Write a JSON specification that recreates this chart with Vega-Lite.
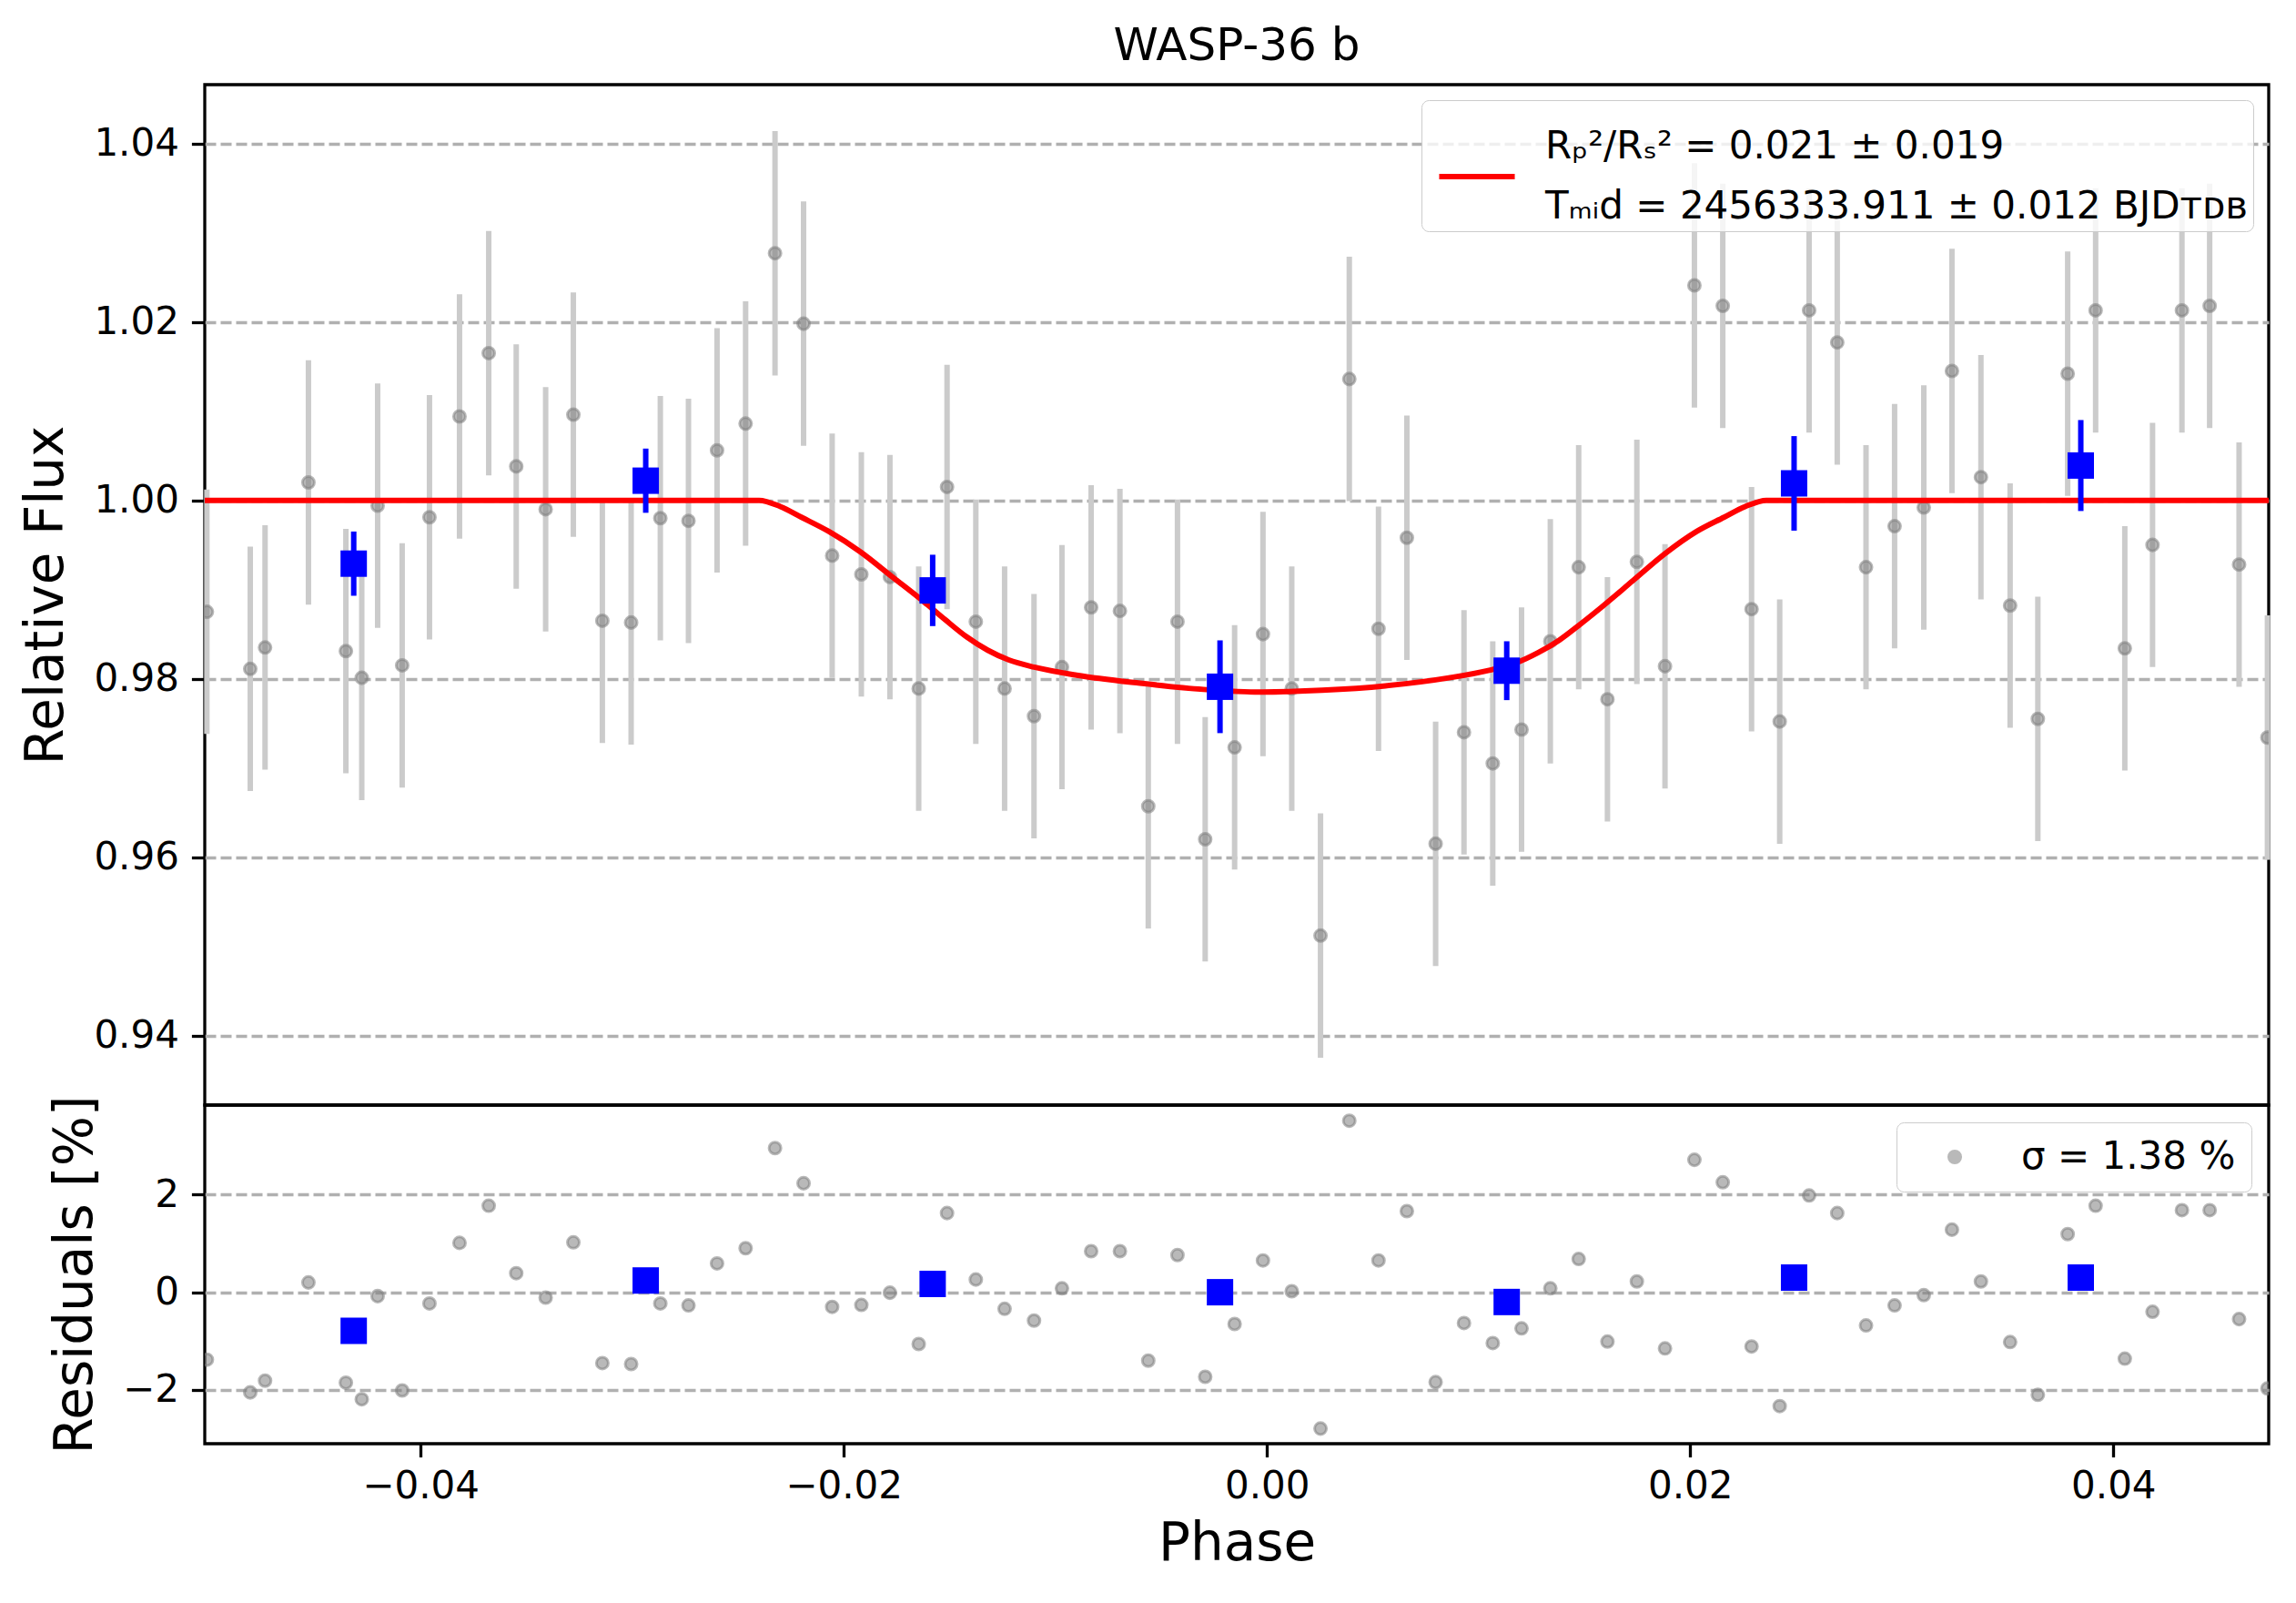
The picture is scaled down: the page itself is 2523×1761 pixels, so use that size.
{
  "$schema": "https://vega.github.io/schema/vega-lite/v6.json",
  "autosize": {"type": "pad"},
  "padding": {"left": 21, "top": 24, "right": 0, "bottom": 0},
  "background": "white",
  "datasets": {
    "points": [
      {"phase": -0.0501, "flux": 0.9875, "err": 0.0137, "resid": -1.38},
      {"phase": -0.04805, "flux": 0.9811, "err": 0.0137, "resid": -2.05},
      {"phase": -0.04735, "flux": 0.9835, "err": 0.0137, "resid": -1.81},
      {"phase": -0.0453, "flux": 1.0020, "err": 0.0137, "resid": 0.20},
      {"phase": -0.04353, "flux": 0.9831, "err": 0.0137, "resid": -1.85},
      {"phase": -0.04278, "flux": 0.9801, "err": 0.0137, "resid": -2.19},
      {"phase": -0.04203, "flux": 0.9994, "err": 0.0137, "resid": -0.08},
      {"phase": -0.04087, "flux": 0.9815, "err": 0.0137, "resid": -2.01},
      {"phase": -0.03958, "flux": 0.9981, "err": 0.0137, "resid": -0.23},
      {"phase": -0.03816, "flux": 1.0094, "err": 0.0137, "resid": 1.01},
      {"phase": -0.03678, "flux": 1.0165, "err": 0.0137, "resid": 1.77},
      {"phase": -0.03548, "flux": 1.0038, "err": 0.0137, "resid": 0.39},
      {"phase": -0.03409, "flux": 0.9990, "err": 0.0137, "resid": -0.11},
      {"phase": -0.03278, "flux": 1.0096, "err": 0.0137, "resid": 1.02},
      {"phase": -0.03141, "flux": 0.9865, "err": 0.0137, "resid": -1.45},
      {"phase": -0.03005, "flux": 0.9863, "err": 0.0137, "resid": -1.47},
      {"phase": -0.02867, "flux": 0.9980, "err": 0.0137, "resid": -0.23},
      {"phase": -0.02734, "flux": 0.9977, "err": 0.0137, "resid": -0.27},
      {"phase": -0.02599, "flux": 1.0056, "err": 0.0137, "resid": 0.59},
      {"phase": -0.02464, "flux": 1.0086, "err": 0.0137, "resid": 0.90},
      {"phase": -0.02325, "flux": 1.0277, "err": 0.0137, "resid": 2.95},
      {"phase": -0.02190, "flux": 1.0198, "err": 0.0137, "resid": 2.23},
      {"phase": -0.02055, "flux": 0.9938, "err": 0.0137, "resid": -0.30},
      {"phase": -0.01917, "flux": 0.9917, "err": 0.0137, "resid": -0.26},
      {"phase": -0.01782, "flux": 0.9914, "err": 0.0137, "resid": -0.01},
      {"phase": -0.01646, "flux": 0.9789, "err": 0.0137, "resid": -1.06},
      {"phase": -0.01512, "flux": 1.0015, "err": 0.0137, "resid": 1.62},
      {"phase": -0.01376, "flux": 0.9864, "err": 0.0137, "resid": 0.26},
      {"phase": -0.01240, "flux": 0.9789, "err": 0.0137, "resid": -0.34},
      {"phase": -0.01101, "flux": 0.9758, "err": 0.0137, "resid": -0.58},
      {"phase": -0.00969, "flux": 0.9813, "err": 0.0137, "resid": 0.08},
      {"phase": -0.00831, "flux": 0.9880, "err": 0.0137, "resid": 0.84},
      {"phase": -0.00695, "flux": 0.9876, "err": 0.0137, "resid": 0.84},
      {"phase": -0.00561, "flux": 0.9657, "err": 0.0137, "resid": -1.40},
      {"phase": -0.00423, "flux": 0.9864, "err": 0.0137, "resid": 0.76},
      {"phase": -0.00292, "flux": 0.9620, "err": 0.0137, "resid": -1.73},
      {"phase": -0.00153, "flux": 0.9723, "err": 0.0137, "resid": -0.65},
      {"phase": -0.00019, "flux": 0.9850, "err": 0.0137, "resid": 0.65},
      {"phase": 0.00117, "flux": 0.9789, "err": 0.0137, "resid": 0.02},
      {"phase": 0.00253, "flux": 0.9512, "err": 0.0137, "resid": -2.79},
      {"phase": 0.00389, "flux": 1.0136, "err": 0.0137, "resid": 3.51},
      {"phase": 0.00527, "flux": 0.9856, "err": 0.0137, "resid": 0.65},
      {"phase": 0.00661, "flux": 0.9958, "err": 0.0137, "resid": 1.66},
      {"phase": 0.00797, "flux": 0.9615, "err": 0.0137, "resid": -1.84},
      {"phase": 0.00931, "flux": 0.9740, "err": 0.0137, "resid": -0.63},
      {"phase": 0.01067, "flux": 0.9705, "err": 0.0137, "resid": -1.04},
      {"phase": 0.01203, "flux": 0.9743, "err": 0.0137, "resid": -0.74},
      {"phase": 0.01339, "flux": 0.9842, "err": 0.0137, "resid": 0.08},
      {"phase": 0.01473, "flux": 0.9925, "err": 0.0137, "resid": 0.68},
      {"phase": 0.01609, "flux": 0.9777, "err": 0.0137, "resid": -1.01},
      {"phase": 0.01748, "flux": 0.9931, "err": 0.0137, "resid": 0.22},
      {"phase": 0.01881, "flux": 0.9814, "err": 0.0137, "resid": -1.15},
      {"phase": 0.02020, "flux": 1.0241, "err": 0.0137, "resid": 2.71},
      {"phase": 0.02154, "flux": 1.0218, "err": 0.0137, "resid": 2.25},
      {"phase": 0.02290, "flux": 0.9878, "err": 0.0137, "resid": -1.11},
      {"phase": 0.02423, "flux": 0.9752, "err": 0.0137, "resid": -2.33},
      {"phase": 0.02562, "flux": 1.0213, "err": 0.0137, "resid": 1.98},
      {"phase": 0.02695, "flux": 1.0177, "err": 0.0137, "resid": 1.62},
      {"phase": 0.02831, "flux": 0.9925, "err": 0.0137, "resid": -0.68},
      {"phase": 0.02966, "flux": 0.9971, "err": 0.0137, "resid": -0.27},
      {"phase": 0.03104, "flux": 0.9992, "err": 0.0137, "resid": -0.06},
      {"phase": 0.03237, "flux": 1.0145, "err": 0.0137, "resid": 1.28},
      {"phase": 0.03374, "flux": 1.0026, "err": 0.0137, "resid": 0.22},
      {"phase": 0.03512, "flux": 0.9882, "err": 0.0137, "resid": -1.02},
      {"phase": 0.03643, "flux": 0.9755, "err": 0.0137, "resid": -2.10},
      {"phase": 0.03784, "flux": 1.0142, "err": 0.0137, "resid": 1.19},
      {"phase": 0.03916, "flux": 1.0213, "err": 0.0137, "resid": 1.77},
      {"phase": 0.04054, "flux": 0.9834, "err": 0.0137, "resid": -1.36},
      {"phase": 0.04185, "flux": 0.9950, "err": 0.0137, "resid": -0.40},
      {"phase": 0.04324, "flux": 1.0213, "err": 0.0137, "resid": 1.68},
      {"phase": 0.04455, "flux": 1.0218, "err": 0.0137, "resid": 1.68},
      {"phase": 0.04594, "flux": 0.9928, "err": 0.0137, "resid": -0.55},
      {"phase": 0.04728, "flux": 0.9734, "err": 0.0137, "resid": -1.97}
    ],
    "binned": [
      {"phase": -0.04316, "flux": 0.9929, "err": 0.0036, "resid": -0.79},
      {"phase": -0.02936, "flux": 1.0022, "err": 0.0036, "resid": 0.24},
      {"phase": -0.01580, "flux": 0.9899, "err": 0.0040, "resid": 0.17},
      {"phase": -0.00222, "flux": 0.9791, "err": 0.0052, "resid": 0.00},
      {"phase": 0.01133, "flux": 0.9809, "err": 0.0033, "resid": -0.20},
      {"phase": 0.02491, "flux": 1.0019, "err": 0.0053, "resid": 0.30},
      {"phase": 0.03846, "flux": 1.0039, "err": 0.0051, "resid": 0.30}
    ],
    "model": [
      {"phase": -0.0502, "flux": 1.0},
      {"phase": -0.0240, "flux": 1.0},
      {"phase": -0.0230, "flux": 0.9993},
      {"phase": -0.0220, "flux": 0.9981},
      {"phase": -0.0207, "flux": 0.9965},
      {"phase": -0.0192, "flux": 0.9942},
      {"phase": -0.0177, "flux": 0.9914},
      {"phase": -0.0162, "flux": 0.9886},
      {"phase": -0.0152, "flux": 0.9866},
      {"phase": -0.0142, "flux": 0.9847},
      {"phase": -0.0132, "flux": 0.9832},
      {"phase": -0.0122, "flux": 0.9821},
      {"phase": -0.0110, "flux": 0.9813},
      {"phase": -0.0090, "flux": 0.9804},
      {"phase": -0.0060, "flux": 0.9795},
      {"phase": -0.0030, "flux": 0.9788},
      {"phase": -0.0002, "flux": 0.9785},
      {"phase": 0.0026, "flux": 0.9787},
      {"phase": 0.0056, "flux": 0.9792},
      {"phase": 0.0086, "flux": 0.9801},
      {"phase": 0.0106, "flux": 0.9810},
      {"phase": 0.0118, "flux": 0.9818},
      {"phase": 0.0128, "flux": 0.9829},
      {"phase": 0.0138, "flux": 0.9843},
      {"phase": 0.0148, "flux": 0.9861},
      {"phase": 0.0158, "flux": 0.9880},
      {"phase": 0.0173, "flux": 0.9910},
      {"phase": 0.0188, "flux": 0.9940},
      {"phase": 0.0203, "flux": 0.9965},
      {"phase": 0.0216, "flux": 0.9981},
      {"phase": 0.0226, "flux": 0.9993},
      {"phase": 0.0236, "flux": 1.0},
      {"phase": 0.04734, "flux": 1.0}
    ]
  },
  "spacing": 0,
  "bounds": "flush",
  "resolve": {
    "scale": {"color": "independent"},
    "legend": {"color": "independent"}
  },
  "vconcat": [
    {
      "width": 2268,
      "height": 1121,
      "title": {
        "text": "WASP-36 b",
        "fontSize": 50,
        "font": "DejaVu Sans",
        "fontWeight": "normal",
        "color": "black",
        "offset": 17,
        "anchor": "middle",
        "frame": "group"
      },
      "layer": [
        {
          "data": {"name": "points"},
          "mark": {"type": "errorbar", "color": "#cbcbcb", "thickness": 6, "ticks": false},
          "encoding": {
            "x": {
              "field": "phase",
              "type": "quantitative",
              "title": "Phase",
              "scale": {"domain": [-0.0502, 0.04734], "nice": false, "zero": false},
              "axis": null
            },
            "y": {
              "field": "flux",
              "type": "quantitative",
              "title": "Relative Flux",
              "scale": {"domain": [0.9322, 1.0466], "nice": false, "zero": false},
              "axis": {
                "values": [0.94, 0.96, 0.98, 1.0, 1.02, 1.04],
                "format": ".2f",
                "grid": true
              }
            },
            "yError": {"field": "err"}
          }
        },
        {
          "data": {"name": "points"},
          "mark": {
            "type": "point",
            "shape": "circle",
            "filled": true,
            "size": 170,
            "fill": "gray",
            "fillOpacity": 0.55,
            "stroke": "gray",
            "strokeOpacity": 0.55,
            "strokeWidth": 3,
            "clip": true
          },
          "encoding": {
            "x": {"field": "phase", "type": "quantitative", "title": "Phase"},
            "y": {"field": "flux", "type": "quantitative", "title": "Relative Flux"}
          }
        },
        {
          "data": {"name": "model"},
          "mark": {"type": "line", "strokeWidth": 6, "clip": true, "interpolate": "monotone"},
          "encoding": {
            "x": {"field": "phase", "type": "quantitative", "title": "Phase"},
            "y": {"field": "flux", "type": "quantitative", "title": "Relative Flux"},
            "color": {
              "datum": "fit",
              "scale": {"range": ["#ff0000"]},
              "legend": {
                "title": " ",
                "titleFontSize": 30,
                "titlePadding": 3,
                "orient": "top-right",
                "offset": 17,
                "labelExpr": "['Rₚ²/Rₛ² = 0.021 ± 0.019', 'Tₘᵢd = 2456333.911 ± 0.012 BJDᴛᴅʙ']",
                "labelFont": "DejaVu Sans",
                "labelFontSize": 42,
                "labelColor": "black",
                "labelLimit": 2000,
                "labelOffset": 30,
                "symbolOffset": 10,
                "symbolType": "stroke",
                "symbolSize": 6900,
                "symbolStrokeWidth": 6,
                "strokeColor": "#cccccc",
                "fillColor": "rgba(255,255,255,0.8)",
                "cornerRadius": 8,
                "padding": 6,
                "encode": {
                  "labels": {"update": {"lineHeight": {"value": 66}, "dy": {"value": -33}}}
                }
              }
            }
          }
        },
        {
          "data": {"name": "binned"},
          "mark": {"type": "errorbar", "color": "#0000ff", "thickness": 6, "ticks": false},
          "encoding": {
            "x": {"field": "phase", "type": "quantitative", "title": "Phase"},
            "y": {"field": "flux", "type": "quantitative", "title": "Relative Flux"},
            "yError": {"field": "err"}
          }
        },
        {
          "data": {"name": "binned"},
          "mark": {"type": "point", "shape": "square", "filled": true, "size": 841, "color": "#0000ff", "opacity": 1},
          "encoding": {
            "x": {"field": "phase", "type": "quantitative", "title": "Phase"},
            "y": {"field": "flux", "type": "quantitative", "title": "Relative Flux"}
          }
        }
      ]
    },
    {
      "width": 2268,
      "height": 372,
      "layer": [
        {
          "data": {"name": "points"},
          "mark": {
            "type": "point",
            "shape": "circle",
            "filled": true,
            "size": 170,
            "fillOpacity": 0.55,
            "stroke": "gray",
            "strokeOpacity": 0.55,
            "strokeWidth": 3,
            "clip": true
          },
          "encoding": {
            "x": {
              "field": "phase",
              "type": "quantitative",
              "title": "Phase",
              "scale": {"domain": [-0.0502, 0.04734], "nice": false, "zero": false},
              "axis": {
                "values": [-0.04, -0.02, 0.0, 0.02, 0.04],
                "format": ".2f",
                "grid": false
              }
            },
            "y": {
              "field": "resid",
              "type": "quantitative",
              "title": "Residuals [%]",
              "scale": {"domain": [-3.10, 3.83], "nice": false, "zero": false},
              "axis": {
                "values": [-2, 0, 2],
                "format": "d",
                "grid": true
              }
            },
            "color": {
              "datum": "sigma",
              "scale": {"range": ["gray"]},
              "legend": {
                "title": null,
                "orient": "top-right",
                "offset": 19,
                "labelExpr": "'σ = 1.38 %'",
                "labelFont": "DejaVu Sans",
                "labelFontSize": 42,
                "labelColor": "black",
                "labelLimit": 2000,
                "labelOffset": 52,
                "symbolOffset": 26,
                "symbolType": "circle",
                "symbolSize": 170,
                "symbolFillColor": "gray",
                "symbolOpacity": 0.55,
                "symbolStrokeColor": "gray",
                "symbolStrokeWidth": 3,
                "strokeColor": "#cccccc",
                "fillColor": "rgba(255,255,255,0.8)",
                "cornerRadius": 8,
                "padding": 17
              }
            }
          }
        },
        {
          "data": {"name": "binned"},
          "mark": {"type": "point", "shape": "square", "filled": true, "size": 841, "color": "#0000ff", "opacity": 1},
          "encoding": {
            "x": {"field": "phase", "type": "quantitative", "title": "Phase"},
            "y": {"field": "resid", "type": "quantitative", "title": "Residuals [%]"}
          }
        }
      ]
    }
  ],
  "config": {
    "view": {"stroke": "black", "strokeWidth": 3.3},
    "font": "DejaVu Sans",
    "axis": {
      "labelFont": "DejaVu Sans",
      "labelFontSize": 42,
      "labelColor": "black",
      "titleFont": "DejaVu Sans",
      "titleFontSize": 58,
      "titleFontWeight": "normal",
      "titleColor": "black",
      "tickColor": "black",
      "tickSize": 14.6,
      "tickWidth": 3.3,
      "domain": false,
      "labelPadding": 12,
      "titlePadding": 20,
      "gridColor": "#b0b0b0",
      "gridWidth": 3.3,
      "gridDash": [12, 5]
    },
    "axisX": {"labelPadding": 12, "titlePadding": 14},
    "axisY": {"labelPadding": 14, "titlePadding": 22}
  }
}
